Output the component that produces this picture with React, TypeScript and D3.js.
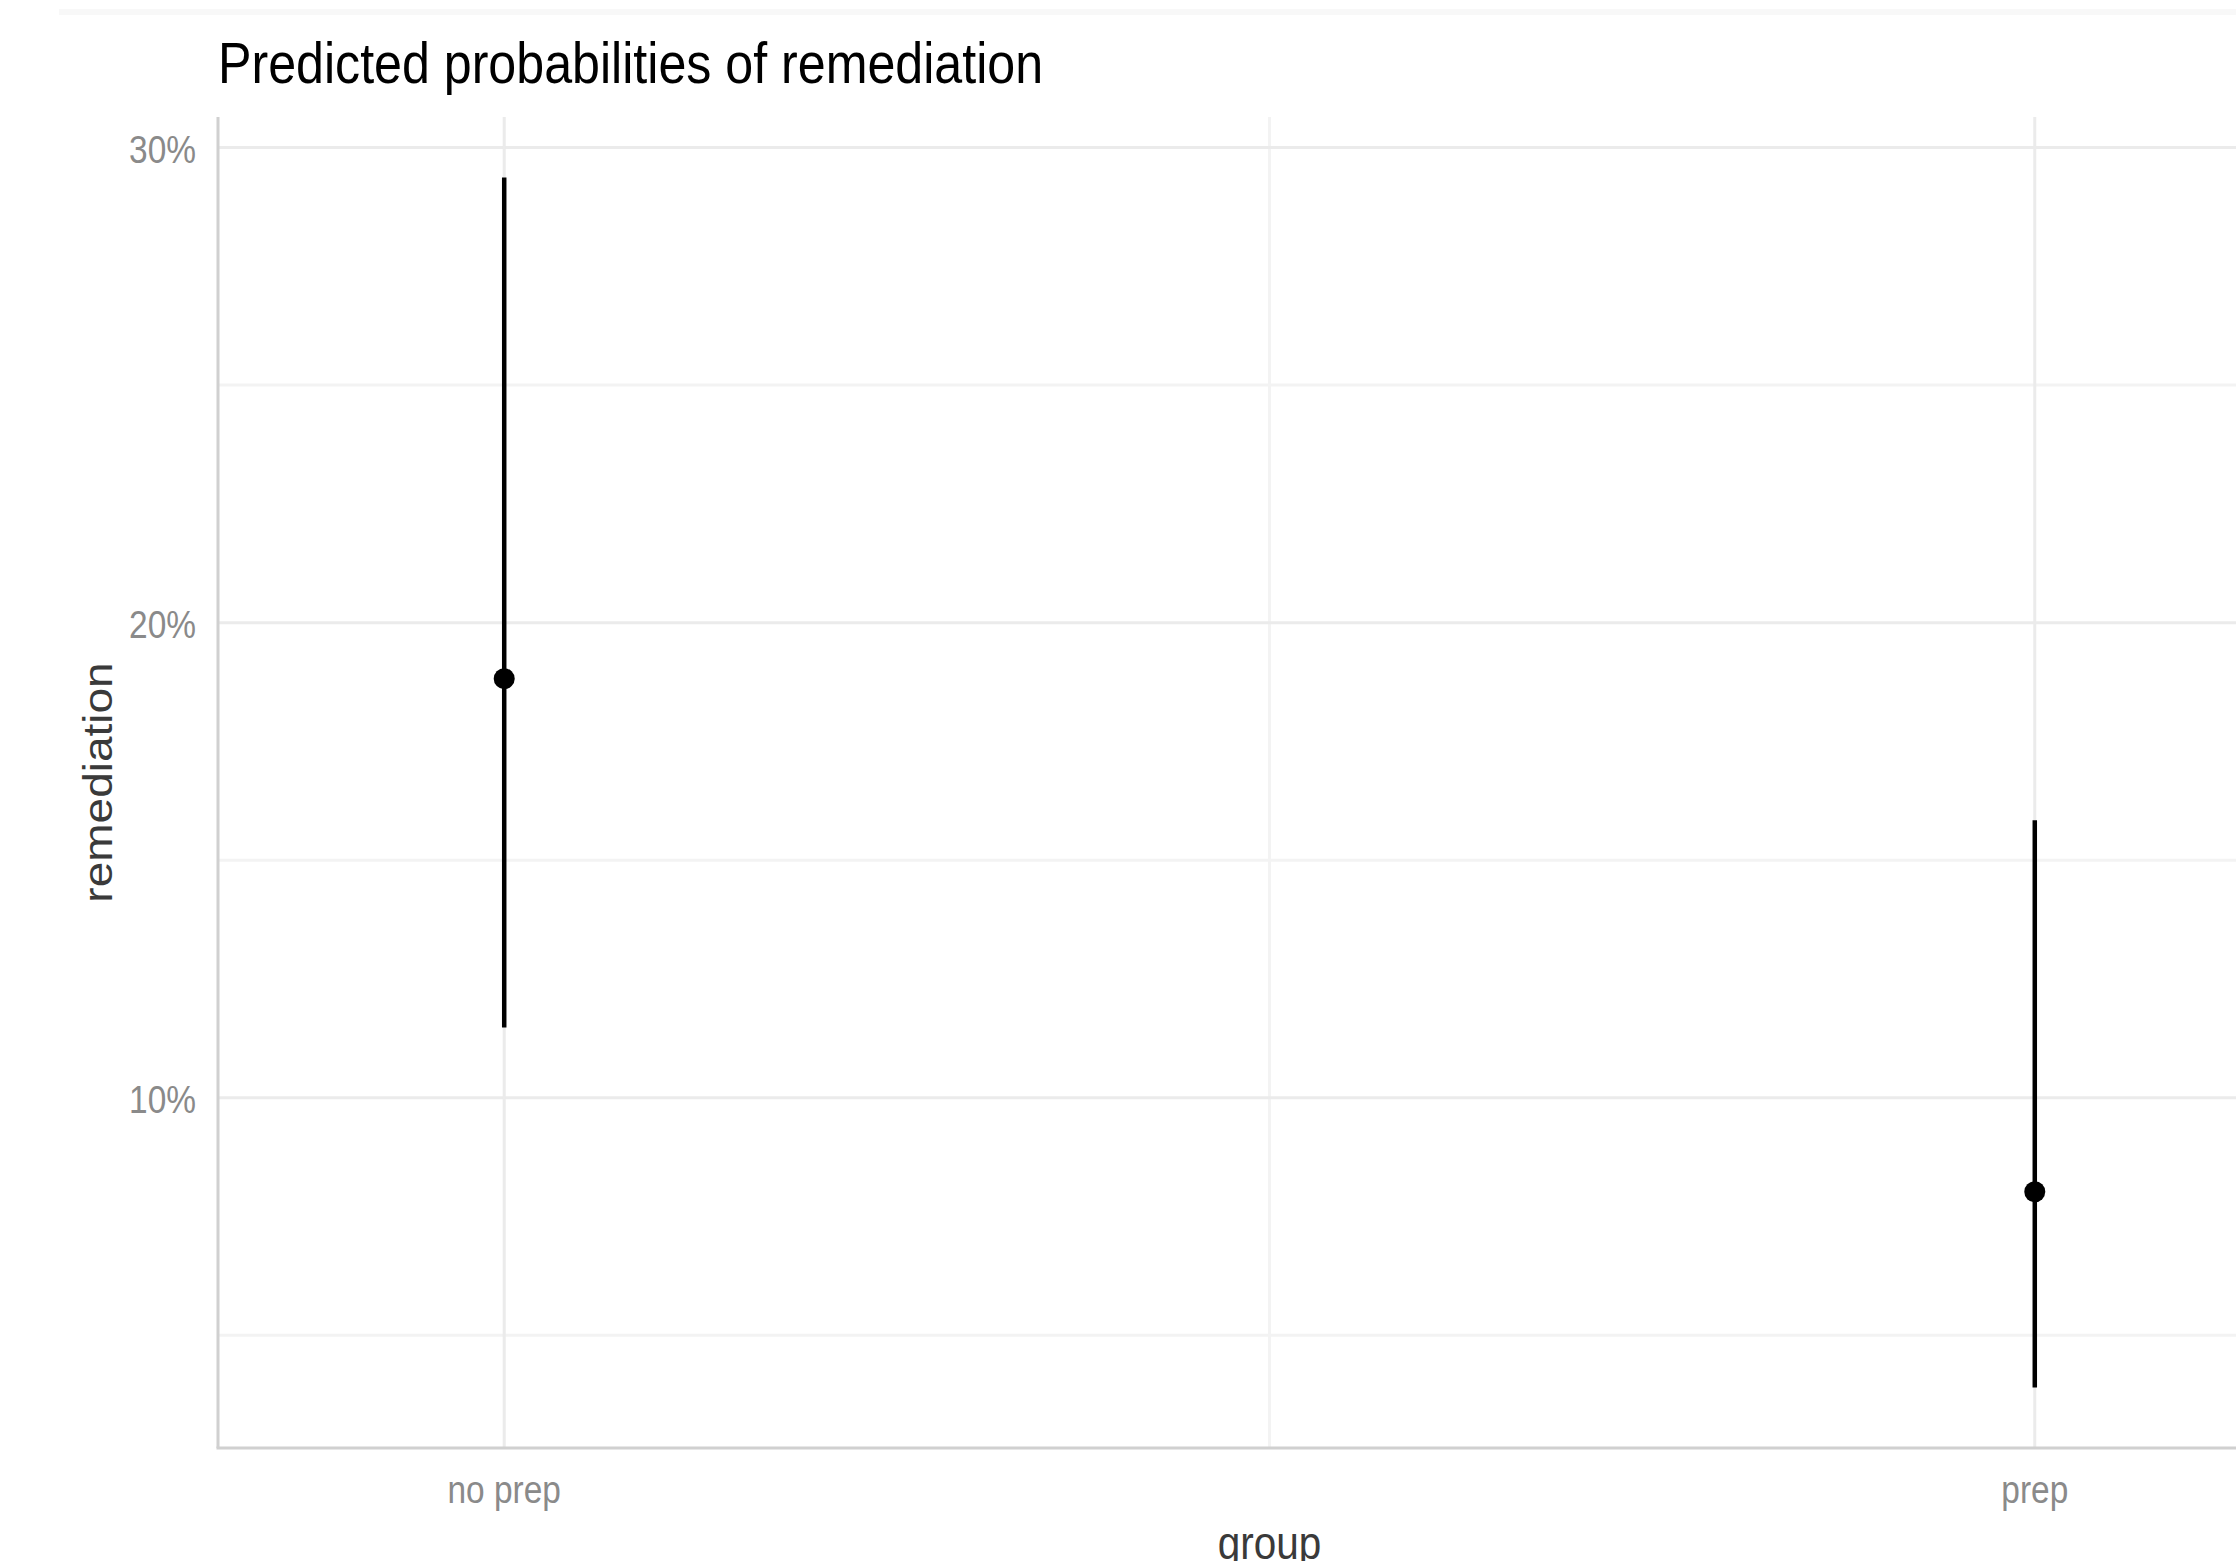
import React, { useEffect, useRef } from "react";
import * as d3 from "d3";

const groups = ["no prep", "prep"];
const predicted = [18.82, 8.02];
const ciLow = [11.48, 3.9];
const ciHigh = [29.37, 15.84];
const majorTicks = [10, 20, 30];
const minorTicks = [5, 15, 25];
const tickLabels = ["10%", "20%", "30%"];

const PredictedChart: React.FC = () => {
  const svgRef = useRef<SVGSVGElement | null>(null);

  useEffect(() => {
    const width = 2236;
    const height = 1561;
    // panel runs off the right edge of the picture (cropped plot)
    const panel = { left: 218, top: 117, bottom: 1448, right: 2321 };
    const squeeze = 0.88;
    const font = "'Liberation Sans', Arial, sans-serif";

    d3.select(svgRef.current).selectAll("*").remove();
    const svg = d3
      .select(svgRef.current)
      .attr("width", width)
      .attr("height", height);

    // faint strip at the very top
    svg
      .append("rect")
      .attr("x", 59)
      .attr("y", 9)
      .attr("width", width - 59)
      .attr("height", 6)
      .attr("fill", "#f8f8f8");

    // ggplot style 5% expansion
    const lo = d3.min(ciLow) as number;
    const hi = d3.max(ciHigh) as number;
    const pad = (hi - lo) * 0.05;
    const yScale = d3
      .scaleLinear()
      .domain([lo - pad, hi + pad])
      .range([panel.bottom, panel.top]);

    const xScale = d3
      .scalePoint()
      .domain(groups)
      .range([panel.left, panel.right])
      .padding(0.187);

    const grid = svg.append("g");
    minorTicks.forEach((t) => {
      grid
        .append("line")
        .attr("x1", panel.left)
        .attr("x2", width)
        .attr("y1", yScale(t))
        .attr("y2", yScale(t))
        .attr("stroke", "#f3f3f3")
        .attr("stroke-width", 3);
    });
    const xMid =
      ((xScale(groups[0]) as number) + (xScale(groups[1]) as number)) / 2;
    grid
      .append("line")
      .attr("x1", xMid)
      .attr("x2", xMid)
      .attr("y1", panel.top)
      .attr("y2", panel.bottom)
      .attr("stroke", "#f3f3f3")
      .attr("stroke-width", 3);
    majorTicks.forEach((t) => {
      grid
        .append("line")
        .attr("x1", panel.left)
        .attr("x2", width)
        .attr("y1", yScale(t))
        .attr("y2", yScale(t))
        .attr("stroke", "#ebebeb")
        .attr("stroke-width", 3);
    });
    groups.forEach((g) => {
      grid
        .append("line")
        .attr("x1", xScale(g) as number)
        .attr("x2", xScale(g) as number)
        .attr("y1", panel.top)
        .attr("y2", panel.bottom)
        .attr("stroke", "#ebebeb")
        .attr("stroke-width", 3);
    });

    // axis lines
    svg
      .append("line")
      .attr("x1", panel.left)
      .attr("x2", panel.left)
      .attr("y1", panel.top)
      .attr("y2", panel.bottom)
      .attr("stroke", "#d0d0d0")
      .attr("stroke-width", 3);
    svg
      .append("line")
      .attr("x1", panel.left - 1.5)
      .attr("x2", width)
      .attr("y1", panel.bottom)
      .attr("y2", panel.bottom)
      .attr("stroke", "#d0d0d0")
      .attr("stroke-width", 3);

    // error bars + points
    groups.forEach((g, i) => {
      svg
        .append("line")
        .attr("x1", xScale(g) as number)
        .attr("x2", xScale(g) as number)
        .attr("y1", yScale(ciLow[i]))
        .attr("y2", yScale(ciHigh[i]))
        .attr("stroke", "#000")
        .attr("stroke-width", 4.5);
      svg
        .append("circle")
        .attr("cx", xScale(g) as number)
        .attr("cy", yScale(predicted[i]))
        .attr("r", 10.5)
        .attr("fill", "#000");
    });

    // tick labels
    majorTicks.forEach((t, i) => {
      svg
        .append("text")
        .attr("transform", `translate(196,${yScale(t) + 15}) scale(${squeeze},1)`)
        .attr("text-anchor", "end")
        .attr("font-family", font)
        .attr("font-size", 38)
        .attr("fill", "#8a8a8a")
        .text(tickLabels[i]);
    });
    groups.forEach((g) => {
      svg
        .append("text")
        .attr("transform", `translate(${xScale(g)},1503) scale(${squeeze},1)`)
        .attr("text-anchor", "middle")
        .attr("font-family", font)
        .attr("font-size", 38)
        .attr("fill", "#8a8a8a")
        .text(g);
    });

    // axis titles
    svg
      .append("text")
      .attr(
        "transform",
        `translate(${(panel.left + panel.right) / 2},1559) scale(${squeeze},1)`
      )
      .attr("text-anchor", "middle")
      .attr("font-family", font)
      .attr("font-size", 46)
      .attr("fill", "#3a3a3a")
      .text("group");
    svg
      .append("text")
      .attr(
        "transform",
        `translate(112,${(panel.top + panel.bottom) / 2}) scale(${squeeze},1) rotate(-90)`
      )
      .attr("text-anchor", "middle")
      .attr("font-family", font)
      .attr("font-size", 46)
      .attr("fill", "#3a3a3a")
      .text("remediation");

    // title
    svg
      .append("text")
      .attr("transform", `translate(${panel.left},83) scale(${squeeze},1)`)
      .attr("font-family", font)
      .attr("font-size", 57)
      .attr("fill", "#000")
      .text("Predicted probabilities of remediation");
  }, []);

  return (
    <svg
      ref={svgRef}
      style={{ position: "absolute", left: 0, top: 0, background: "#fff" }}
    ></svg>
  );
};

export default function App() {
  return <PredictedChart />;
}
